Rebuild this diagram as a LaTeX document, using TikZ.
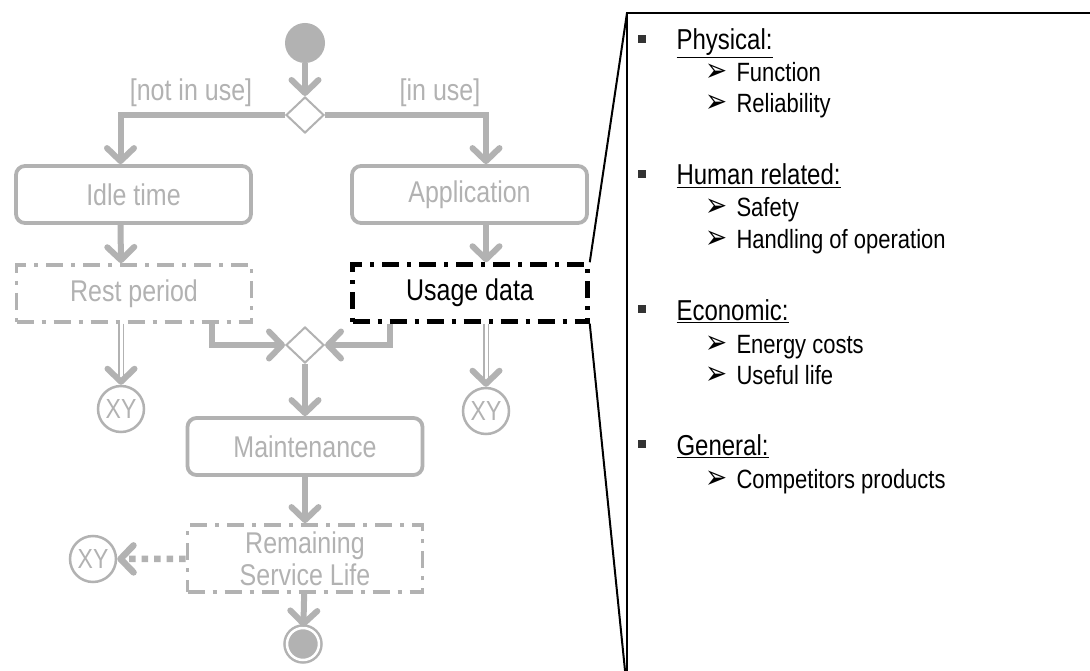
\documentclass[tikz,border=0pt]{standalone}
\usepackage{fontspec}
\setmainfont{Liberation Sans}
\newfontfamily\dingfont{DejaVu Sans}
\usepackage{tikz}
\usetikzlibrary{shapes, positioning}
\usetikzlibrary{calc}
\usetikzlibrary{arrows.meta}
\definecolor{lightgrey}{RGB}{178,178,178}
\newcommand{\tall}[1]{\scalebox{1}[1.2]{#1}}

\begin{document}
\begin{tikzpicture}[x=1pt, y=-1pt,
		flow/.style={draw=lightgrey, line width=6pt, -{Straight Barb[length=13pt, width=27pt, round]}},
		dblflow/.style={draw=lightgrey, line width=1.6pt, double=white, double distance=3pt, -{Straight Barb[length=13pt, width=27pt, round, line width=6pt]}},
		dotflow/.style={draw=lightgrey, line width=6.5pt, dash pattern=on 6.5pt off 6pt, -{Straight Barb[length=13pt, width=27pt, round]}},
		action/.style={draw=lightgrey, text=lightgrey, line width=3.8pt, rounded corners=9pt, minimum width=235pt, minimum height=57pt, font=\fontsize{25}{29}\selectfont},
		datanode/.style={draw=lightgrey, text=lightgrey, line width=3.8pt, dash pattern=on 17pt off 8pt on 4pt off 8pt, minimum width=235pt, minimum height=57pt, align=center, font=\fontsize{25}{32}\selectfont},
		decision/.style={diamond, draw=lightgrey, fill=white, line width=2pt, minimum width=38pt, minimum height=36pt, inner sep=0pt},
		xynode/.style={circle, draw=lightgrey, text=lightgrey, line width=2.5pt, minimum size=46pt, inner sep=0pt, font=\fontsize{23}{25}\selectfont},
		guard/.style={text=lightgrey, font=\fontsize{25}{29}\selectfont},
		heading/.style={anchor=base west, font=\fontsize{24}{28}\selectfont},
		item/.style={anchor=base west, font=\fontsize{22}{26}\selectfont},
		panel/.style={draw=black, line width=2pt}]
		\useasboundingbox (0,0) rectangle (1090,671);
		\fill[white] (0,0) rectangle (1090,671);
		% activity diagram
		\node[circle, fill=lightgrey, minimum size=40pt] (init) at (305,43) {};
		\node[decision] (d1) at (305,115) {};
		\node[guard] (notuse) at (191,93) {\tall{[not in use]}};
		\node[guard] (inuse) at (440,93) {\tall{[in use]}};
		\node[action] (idle) at (133.5,194.5) {\tall{Idle time}};
		\node[action] (appl) at (469.5,194.5) {\tall{Application}};
		\node[datanode] (rest) at (134,293.5) {\tall{Rest period}};
		\node[datanode, draw=black, text=black, line width=4.5pt] (usage) at (470,293) {\tall{Usage data}};
		\node[decision] (d2) at (305,345) {};
		\node[xynode] (xy1) at (121,409) {\tall{XY}};
		\node[xynode] (xy2) at (486,411) {\tall{XY}};
		\node[action] (maint) at (305,446.5) {\tall{Maintenance}};
		\node[datanode, minimum height=67pt] (rsl) at (305,558.5) {\tall{Remaining}\\\tall{Service Life}};
		\node[xynode] (xy3) at (93,559) {\tall{XY}};
		\node[circle, fill=lightgrey, draw=lightgrey, double=white, double distance=2.5pt, line width=2.5pt, minimum size=32pt] (fin) at (303,644) {};

		\draw[flow] (init) -- (d1);
		\draw[flow] (d1.west) -| ([xshift=-13pt]idle.north);
		\draw[flow] (d1.east) -| ([xshift=16.5pt]appl.north);
		\draw[flow] ([xshift=-13pt]idle.south) -- ([xshift=-13pt]rest.north);
		\draw[flow] ([xshift=16.5pt]appl.south) -- ([xshift=16pt]usage.north);
		\draw[flow] ([xshift=78pt]rest.south) |- (d2.west);
		\draw[flow] ([xshift=-80pt]usage.south) |- (d2.east);
		\draw[dblflow] ([xshift=-13pt]rest.south) -- (xy1.north);
		\draw[dblflow] ([xshift=16pt]usage.south) -- (xy2.north);
		\draw[flow] (d2) -- (maint);
		\draw[flow] (maint) -- (rsl);
		\draw[dotflow] (rsl) -- (xy3);
		\draw[flow] (rsl) -- (fin);

		% zoom on usage data
		\coordinate (ptop) at (627,13);
		\coordinate (pbot) at (627,690);
		\draw[panel] (usage.north east) -- (ptop);
		\draw[panel] (usage.south east) -- (pbot);
		\draw[panel] (1100,13) -- (ptop) -- (pbot);

		\foreach \nm/\yy/\txt in {phys/50/Physical:, human/185/Human related:, econ/320/Economic:, gen/455/General:} {
			\node[heading] (\nm) at (673,\yy) {\tall{\underline{\txt}}};
			\fill[black!80] (638,\yy-15) rectangle (646,\yy-7);
		}
		\foreach \nm/\yy/\txt in {func/82/Function, reli/113/Reliability, safe/217/Safety, hand/249/Handling of operation, ener/353/Energy costs, usef/384/Useful life, comp/488/Competitors products} {
			\node[item] (\nm) at (733,\yy) {\tall{\txt}};
			\node[item, font=\dingfont\fontsize{22}{26}\selectfont] at (702,\yy) {\scalebox{1.2}[1.5]{➢}};
		}
	\end{tikzpicture}
\end{document}
